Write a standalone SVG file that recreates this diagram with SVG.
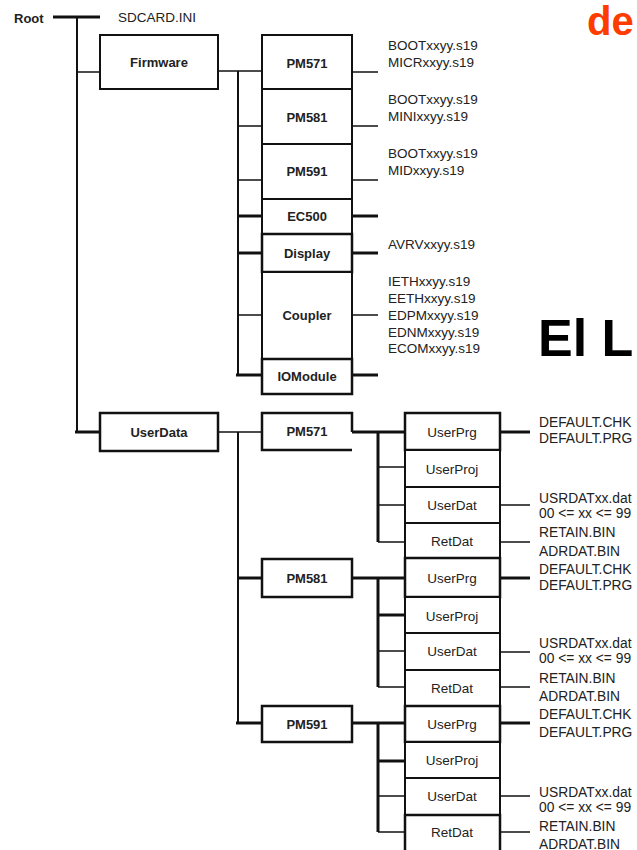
<svg xmlns="http://www.w3.org/2000/svg" width="637" height="850" viewBox="0 0 637 850">
<style>
.box{fill:#fff;stroke:#111;stroke-width:2}
.bl{font-family:"Liberation Sans",Arial,sans-serif;font-size:13px;font-weight:bold;fill:#222;text-anchor:middle;dominant-baseline:central}
.ul{font-family:"Liberation Sans",Arial,sans-serif;font-size:13.5px;fill:#222;text-anchor:middle;dominant-baseline:central}
.ft{font-family:"Liberation Sans",Arial,sans-serif;font-size:13.5px;fill:#222;dominant-baseline:central}
.fr{font-size:13.8px}
.c{stroke:#111;stroke-width:1.5;fill:none}
.t{stroke:#111;stroke-width:3;fill:none}
.v{stroke:#111;stroke-width:2;fill:none}
</style>
<rect width="637" height="850" fill="#fff"/>
<g id="connectors">
<line class="t" x1="53" y1="17" x2="100" y2="17"/>
<line class="v" x1="77" y1="17" x2="77" y2="432"/>
<line class="c" x1="77" y1="72" x2="100" y2="72"/>
<line class="t" x1="75" y1="432" x2="100" y2="432"/>
<line class="c" x1="218" y1="71" x2="262" y2="71"/>
<line class="v" x1="238" y1="71" x2="238" y2="376"/>
<line class="c" x1="238" y1="126" x2="262" y2="126"/>
<line class="c" x1="238" y1="180" x2="262" y2="180"/>
<line class="t" x1="238" y1="216" x2="262" y2="216"/>
<line class="t" x1="238" y1="253" x2="262" y2="253"/>
<line class="c" x1="238" y1="315" x2="262" y2="315"/>
<line class="t" x1="236" y1="375" x2="262" y2="375"/>
<line class="c" x1="352" y1="72" x2="378" y2="72"/>
<line class="c" x1="352" y1="126" x2="378" y2="126"/>
<line class="c" x1="352" y1="180" x2="378" y2="180"/>
<line class="t" x1="352" y1="216" x2="378" y2="216"/>
<line class="t" x1="352" y1="253" x2="378" y2="253"/>
<line class="c" x1="352" y1="315" x2="378" y2="315"/>
<line class="t" x1="352" y1="375" x2="378" y2="375"/>
<line class="c" x1="218" y1="432" x2="262" y2="432"/>
<line class="v" x1="238" y1="432" x2="238" y2="723"/>
<line class="t" x1="238" y1="578" x2="262" y2="578"/>
<line class="t" x1="236" y1="723" x2="262" y2="723"/>
<line class="t" x1="352" y1="432" x2="405" y2="432"/>
<line class="t" x1="378" y1="432" x2="378" y2="542"/>
<line class="c" x1="378" y1="467" x2="405" y2="467"/>
<line class="c" x1="378" y1="505" x2="405" y2="505"/>
<line class="c" x1="378" y1="542" x2="405" y2="542"/>
<line class="t" x1="352" y1="578" x2="405" y2="578"/>
<line class="t" x1="378" y1="578" x2="378" y2="687"/>
<line class="t" x1="378" y1="615" x2="405" y2="615"/>
<line class="c" x1="378" y1="651" x2="405" y2="651"/>
<line class="c" x1="378" y1="687" x2="405" y2="687"/>
<line class="t" x1="352" y1="723" x2="405" y2="723"/>
<line class="t" x1="378" y1="723" x2="378" y2="832"/>
<line class="t" x1="378" y1="761" x2="405" y2="761"/>
<line class="c" x1="378" y1="796" x2="405" y2="796"/>
<line class="c" x1="378" y1="832" x2="405" y2="832"/>
<line class="t" x1="500" y1="432" x2="530" y2="432"/>
<line class="c" x1="500" y1="505" x2="530" y2="505"/>
<line class="c" x1="500" y1="542" x2="530" y2="542"/>
<line class="t" x1="500" y1="578" x2="530" y2="578"/>
<line class="c" x1="500" y1="652" x2="530" y2="652"/>
<line class="c" x1="500" y1="687" x2="530" y2="687"/>
<line class="t" x1="500" y1="723" x2="530" y2="723"/>
<line class="c" x1="500" y1="796" x2="530" y2="796"/>
<line class="c" x1="500" y1="832" x2="530" y2="832"/>
</g>
<g id="root"><text x="14" y="18" class="ft" style="font-weight:bold;font-size:13px">Root</text></g>
<g id="sdcard"><text x="118" y="17" class="ft">SDCARD.INI</text></g>
<g id="firmware"><rect class="box" x="100" y="35" width="118" height="54"/><text class="bl" x="159" y="62">Firmware</text></g>
<g id="fw-pm571"><rect class="box" x="262" y="35" width="90" height="54"/><text class="bl" x="307" y="63">PM571</text></g>
<g id="fw-pm581"><rect class="box" x="262" y="89" width="90" height="55"/><text class="bl" x="307" y="117">PM581</text></g>
<g id="fw-pm591"><rect class="box" x="262" y="144" width="90" height="55"/><text class="bl" x="307" y="171">PM591</text></g>
<g id="fw-ec500"><rect class="box" x="262" y="199" width="90" height="35"/><text class="bl" x="307" y="216">EC500</text></g>
<g id="fw-display"><rect class="box" x="262" y="234" width="90" height="38" style="stroke-width:2.5"/><text class="bl" x="307" y="253">Display</text></g>
<g id="fw-coupler"><rect class="box" x="262" y="272" width="90" height="87"/><text class="bl" x="307" y="315">Coupler</text></g>
<g id="fw-iomodule"><rect class="box" x="262" y="359" width="90" height="35" style="stroke-width:2.5"/><text class="bl" x="307" y="376">IOModule</text></g>
<g id="fw-files">
<text class="ft" x="388" y="45">BOOTxxyy.s19</text>
<text class="ft" x="388" y="62">MICRxxyy.s19</text>
<text class="ft" x="388" y="99">BOOTxxyy.s19</text>
<text class="ft" x="388" y="116">MINIxxyy.s19</text>
<text class="ft" x="388" y="153">BOOTxxyy.s19</text>
<text class="ft" x="388" y="170">MIDxxyy.s19</text>
<text class="ft" x="388" y="244">AVRVxxyy.s19</text>
<text class="ft" x="388" y="281">IETHxxyy.s19</text>
<text class="ft" x="388" y="298">EETHxxyy.s19</text>
<text class="ft" x="388" y="315">EDPMxxyy.s19</text>
<text class="ft" x="388" y="332">EDNMxxyy.s19</text>
<text class="ft" x="388" y="348">ECOMxxyy.s19</text>
</g>
<g id="userdata"><rect class="box" x="100" y="413" width="118" height="38" style="stroke-width:2.5"/><text class="bl" x="159" y="432">UserData</text></g>
<g id="ud-pm571"><path d="M352 432 V413 H262 V450 H352" style="fill:#fff;stroke:#111;stroke-width:2.5"/><text class="bl" x="307" y="431">PM571</text></g>
<g id="ud-pm581"><rect class="box" x="262" y="559" width="90" height="38" style="stroke-width:2.5"/><text class="bl" x="307" y="578">PM581</text></g>
<g id="ud-pm591"><rect class="box" x="262" y="706" width="90" height="36" style="stroke-width:2.5"/><text class="bl" x="307" y="724">PM591</text></g>
<g id="g1-userprg"><rect class="box" x="405" y="413" width="95" height="37" style="stroke-width:2.5"/><text class="ul" x="452" y="432">UserPrg</text></g>
<g id="g1-userproj"><rect class="box" x="405" y="450" width="95" height="37"/><text class="ul" x="452" y="469">UserProj</text></g>
<g id="g1-userdat"><rect class="box" x="405" y="487" width="95" height="36"/><text class="ul" x="452" y="505">UserDat</text></g>
<g id="g1-retdat"><rect class="box" x="405" y="523" width="95" height="35"/><text class="ul" x="452" y="541">RetDat</text></g>
<g id="g2-userprg"><rect class="box" x="405" y="558" width="95" height="39" style="stroke-width:2.5"/><text class="ul" x="452" y="578">UserPrg</text></g>
<g id="g2-userproj"><rect class="box" x="405" y="597" width="95" height="36"/><text class="ul" x="452" y="616">UserProj</text></g>
<g id="g2-userdat"><rect class="box" x="405" y="633" width="95" height="37"/><text class="ul" x="452" y="651">UserDat</text></g>
<g id="g2-retdat"><rect class="box" x="405" y="670" width="95" height="36"/><text class="ul" x="452" y="688">RetDat</text></g>
<g id="g3-userprg"><rect class="box" x="405" y="706" width="95" height="36" style="stroke-width:2.5"/><text class="ul" x="452" y="724">UserPrg</text></g>
<g id="g3-userproj"><rect class="box" x="405" y="742" width="95" height="36"/><text class="ul" x="452" y="760">UserProj</text></g>
<g id="g3-userdat"><rect class="box" x="405" y="778" width="95" height="37"/><text class="ul" x="452" y="796">UserDat</text></g>
<g id="g3-retdat"><rect class="box" x="405" y="815" width="95" height="40" style="stroke-width:2.5"/><text class="ul" x="452" y="832">RetDat</text></g>
<g id="ud-files">
<text class="ft fr" x="539" y="422">DEFAULT.CHK</text>
<text class="ft fr" x="539" y="438">DEFAULT.PRG</text>
<text class="ft fr" x="539" y="498">USRDATxx.dat</text>
<text class="ft fr" x="539" y="513">00 &lt;= xx &lt;= 99</text>
<text class="ft fr" x="539" y="532">RETAIN.BIN</text>
<text class="ft fr" x="539" y="551">ADRDAT.BIN</text>
<text class="ft fr" x="539" y="569">DEFAULT.CHK</text>
<text class="ft fr" x="539" y="585">DEFAULT.PRG</text>
<text class="ft fr" x="539" y="643">USRDATxx.dat</text>
<text class="ft fr" x="539" y="658">00 &lt;= xx &lt;= 99</text>
<text class="ft fr" x="539" y="678">RETAIN.BIN</text>
<text class="ft fr" x="539" y="696">ADRDAT.BIN</text>
<text class="ft fr" x="539" y="714">DEFAULT.CHK</text>
<text class="ft fr" x="539" y="732">DEFAULT.PRG</text>
<text class="ft fr" x="539" y="792">USRDATxx.dat</text>
<text class="ft fr" x="539" y="807">00 &lt;= xx &lt;= 99</text>
<text class="ft fr" x="539" y="826">RETAIN.BIN</text>
<text class="ft fr" x="539" y="844">ADRDAT.BIN</text>
</g>
<text x="587" y="35" style="font-family:'Liberation Sans',Arial,sans-serif;font-size:40px;font-weight:bold;fill:#ff3c00">de</text>
<text x="538" y="356" style="font-family:'Liberation Sans',Arial,sans-serif;font-size:52px;font-weight:bold;fill:#000">El L</text>
</svg>
